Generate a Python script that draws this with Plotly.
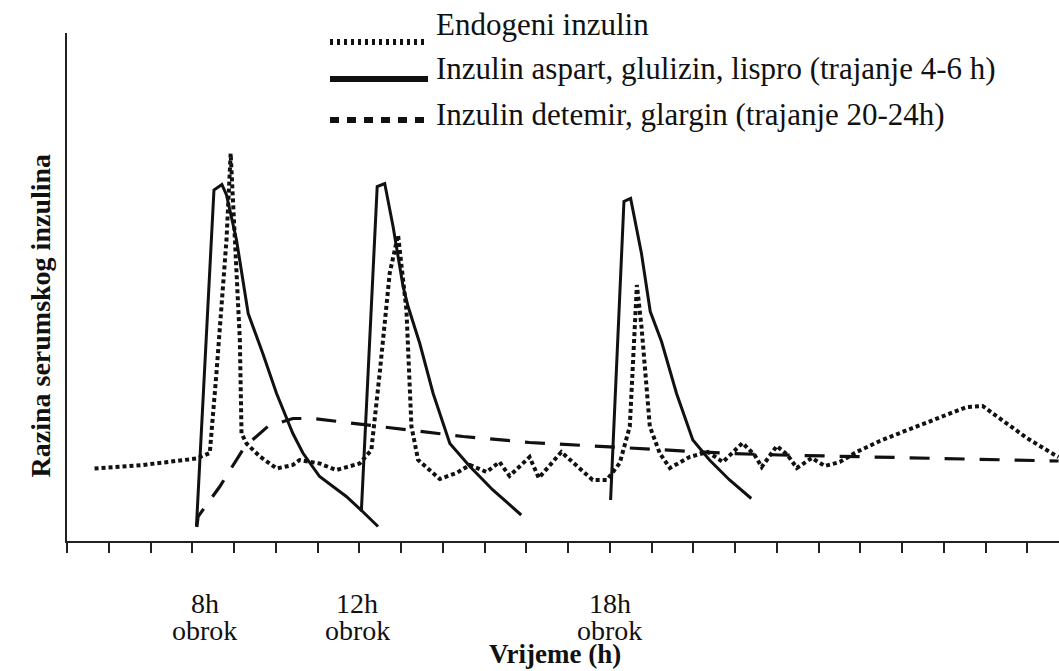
import plotly.graph_objects as go

# ---- data (x in hours, y in relative serum insulin level) ----
endo_x = [5.66, 6.82, 8.10, 8.42, 8.58, 8.74, 8.82, 8.92, 8.98, 9.06, 9.14, 9.18, 9.30, 9.62,
          10.02, 10.41, 10.57, 11.05, 11.45, 12.01, 12.29, 12.49, 12.73, 12.93, 13.13, 13.25,
          13.41, 13.93, 14.33, 14.65, 15.05, 15.36, 15.60, 16.08, 16.30, 16.84, 17.59, 17.93,
          18.24, 18.48, 18.60, 18.65, 18.76, 18.96, 19.20, 19.44, 19.91, 20.35, 20.71, 21.18,
          21.47, 21.64, 22.00, 22.26, 22.48, 22.84, 23.15, 23.51, 23.91, 24.47, 24.95, 25.74,
          26.55, 26.93, 27.34, 27.99, 28.54, 28.75]
endo_y = [14.5, 15.2, 16.5, 17.6, 33.6, 50.2, 60.2, 77.5, 66.9, 56.9, 40.2, 21.5, 19.5, 16.9,
          14.5, 15.2, 16.2, 15.5, 14.2, 15.5, 18.2, 33.6, 53.6, 61.2, 46.2, 22.9,
          16.2, 12.4, 13.6, 15.2, 13.8, 15.8, 13.0, 16.8, 12.6, 17.8, 12.2, 12.2,
          15.6, 22.9, 42.9, 51.2, 42.9, 22.9, 17.5, 14.6, 16.8, 17.8, 15.8, 19.6,
          17.2, 14.8, 19.0, 17.2, 14.6, 16.6, 15.0, 15.8, 17.8, 20.0, 21.6, 24.2,
          26.8, 27.0, 24.6, 20.6, 17.8, 16.8]

rapid1_x = [8.10, 8.52, 8.71, 8.82, 9.06, 9.26, 9.34, 9.69, 10.02, 10.41, 10.65, 11.05, 11.69, 12.08, 12.45]
rapid1_y = [2.9, 70.2, 71.3, 69.2, 60.2, 50.2, 45.5, 37.5, 29.5, 21.5, 17.6, 12.9, 8.9, 5.9, 2.9]

rapid2_x = [12.05, 12.43, 12.61, 12.81, 13.05, 13.17, 13.45, 13.77, 14.17, 14.65, 15.20, 15.88]
rapid2_y = [5.9, 70.9, 71.5, 62.9, 50.9, 46.9, 39.5, 29.5, 19.5, 14.9, 10.2, 5.2]

rapid3_x = [18.02, 18.34, 18.50, 18.76, 18.97, 19.24, 19.60, 19.99, 20.39, 20.87, 21.39]
rapid3_y = [8.2, 67.9, 68.5, 57.5, 45.9, 39.9, 29.5, 20.2, 16.2, 12.2, 8.5]

basal_x = [8.11, 8.14, 8.66, 9.26, 9.81, 10.41, 10.89, 11.93, 12.89, 14.49, 16.08, 17.68, 19.28, 20.87, 22.07, 25.74, 28.75]
basal_y = [2.8, 4.9, 10.9, 18.9, 22.9, 24.5, 24.5, 23.5, 22.5, 20.9, 19.7, 19.0, 18.2, 17.5, 17.2, 16.5, 16.0]

tick_hours = list(range(5, 29))
meal_label_x = [8.30, 11.95, 18.0]
meal_labels = ["8h", "12h", "18h"]
meal_word = "obrok"

legend_names = ["Endogeni inzulin",
                "Inzulin aspart, glulizin, lispro (trajanje 4-6 h)",
                "Inzulin detemir, glargin (trajanje 20-24h)"]

x_title = "Vrijeme (h)"
y_title = "Razina serumskog inzulina"

# ---- figure ----
FONT = "Liberation Serif, Times New Roman, serif"
fig = go.Figure()

fig.add_trace(go.Scatter(x=basal_x, y=basal_y, mode="lines",
                         line=dict(color="#111", width=3.2, dash="20px,15px"),
                         showlegend=False, hoverinfo="skip"))
fig.add_trace(go.Scatter(x=endo_x, y=endo_y, mode="lines",
                         line=dict(color="#111", width=4, dash="4px,3px"),
                         showlegend=False, hoverinfo="skip"))
for xs, ys in [(rapid1_x, rapid1_y), (rapid2_x, rapid2_y), (rapid3_x, rapid3_y)]:
    fig.add_trace(go.Scatter(x=xs, y=ys, mode="lines",
                             line=dict(color="#111", width=3),
                             showlegend=False, hoverinfo="skip"))

L, R, T, B = 67, 0, 33, 130
W, H = 1059, 671
pw, ph = W - L - R, H - T - B


def px_x(px):
    return (px - L) / pw


def px_y(py):
    return (H - B - py) / ph


annotations = []
for xv, lab in zip(meal_label_x, meal_labels):
    annotations.append(dict(x=xv, y=0, xref="x", yref="paper", text=lab, showarrow=False,
                            yanchor="middle", yshift=-(603 - 541), borderpad=0,
                            font=dict(family=FONT, size=28, color="#111")))
    annotations.append(dict(x=xv, y=0, xref="x", yref="paper", text=meal_word, showarrow=False,
                            yanchor="middle", yshift=-(630 - 541), borderpad=0,
                            font=dict(family=FONT, size=28, color="#111")))
annotations.append(dict(x=px_x(555), y=0, xref="paper", yref="paper", text="<b>%s</b>" % x_title,
                        showarrow=False, yanchor="middle", yshift=-(654 - 541), borderpad=0,
                        font=dict(family=FONT, size=27, color="#111")))
annotations.append(dict(x=0, y=px_y(316), xref="paper", yref="paper", text="<b>%s</b>" % y_title,
                        showarrow=False, textangle=-90, xshift=-(67 - 22),
                        font=dict(family=FONT, size=28, color="#111")))

text_rows_py = [24, 68, 114]
sample_rows_py = [42, 79, 120]
for name, py in zip(legend_names, text_rows_py):
    annotations.append(dict(x=px_x(434), y=px_y(py), xref="paper", yref="paper", text=name,
                            showarrow=False, xanchor="left", yanchor="middle",
                            font=dict(family=FONT, size=31, color="#111")))

sample_styles = [dict(width=6, dash="3px,4px"), dict(width=6, dash="solid"), dict(width=6, dash="9px,8px")]
shapes = []
for st, py in zip(sample_styles, sample_rows_py):
    shapes.append(dict(type="line", xref="paper", yref="paper", x0=px_x(330), x1=px_x(428),
                       y0=px_y(py), y1=px_y(py), line=dict(color="#111", **st)))

fig.update_layout(
    width=W, height=H,
    margin=dict(l=L, r=R, t=T, b=B),
    paper_bgcolor="white", plot_bgcolor="white",
    showlegend=False,
    xaxis=dict(range=[5, 5 + pw / 41.75], tickmode="array", tickvals=tick_hours,
               showticklabels=False, ticks="outside", ticklen=10, tickwidth=1.5, tickcolor="#222",
               showline=True, linecolor="#222", linewidth=1.5, showgrid=False, zeroline=False,
               fixedrange=True),
    yaxis=dict(range=[0, ph / 5.0], showticklabels=False, ticks="", showline=True,
               linecolor="#222", linewidth=1.5, showgrid=False, zeroline=False, fixedrange=True),
    annotations=annotations,
    shapes=shapes,
)

fig.write_html("out.html", config={"displayModeBar": False},
               post_script="document.body.style.margin='0';document.body.style.overflow='hidden';")
